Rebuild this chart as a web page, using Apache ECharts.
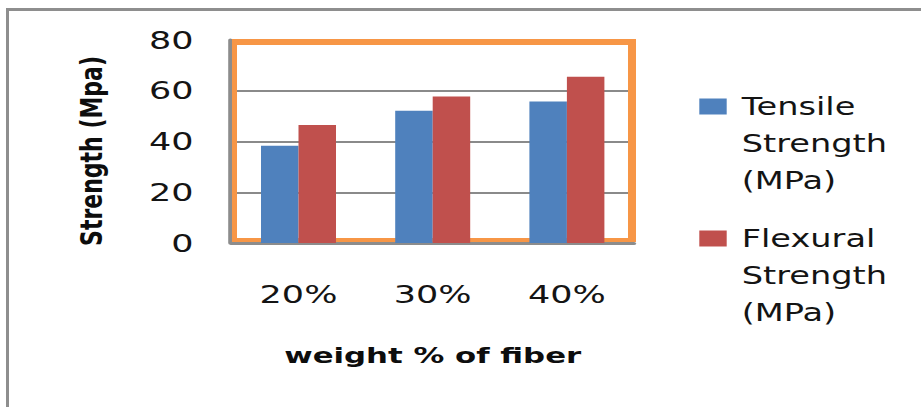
<!DOCTYPE html>
<html>
<head>
<meta charset="utf-8">
<script src="https://cdn.jsdelivr.net/npm/echarts@6/dist/echarts.min.js"></script>
<style>
  html, body { margin: 0; padding: 0; background: #fff; overflow: hidden; }
  /* The chart is laid out narrow and stretched sideways for wide lettering. */
  #chart { width: 658px; height: 407px; transform: scaleX(1.4); transform-origin: 0 0; }
</style>
</head>
<body>
<div id="chart"></div>
<script>
// ---- data ----
const categories = ['20%', '30%', '40%'];
const tensileStrength = [38.3, 52.1, 55.8];
const flexuralStrength = [46.5, 57.7, 65.5];
const seriesNames = ['Tensile\nStrength\n(MPa)', 'Flexural\nStrength\n(MPa)'];
const yRange = { min: 0, max: 80, step: 20 };

// ---- layout helpers (horizontal values given in stretched page pixels) ----
const S = 1.4;
const X = px => px / S;

const FONT = 'DejaVu Sans';
const TEXT = '#141414';
const ORANGE = '#F79646';
const AXIS_GRAY = '#8c8c8c';

// One legend block per series; two blank lines above the name put its
// first line level with the colour swatch.
function legendBlock(name, top) {
  return {
    orient: 'vertical',
    left: X(699.3),
    top: top,
    padding: 0,
    itemWidth: X(27.4),
    itemHeight: 16,
    icon: 'rect',
    selectedMode: false,
    formatter: n => '\n\n' + n,
    textStyle: {
      fontFamily: FONT, fontSize: 24, lineHeight: 37, color: TEXT,
      padding: [0, 0, 0, X(741.7) - X(699.3) - X(27.4) - 5]
    },
    data: [name]
  };
}

const chart = echarts.init(document.getElementById('chart'), null, { renderer: 'svg' });

chart.setOption({
  animation: false,
  backgroundColor: '#fff',
  textStyle: { fontFamily: FONT },
  grid: { left: X(231.4), width: X(402.6), top: 40, height: 203 },
  legend: [legendBlock(seriesNames[0], 14), legendBlock(seriesNames[1], 146)],
  xAxis: {
    type: 'category',
    data: categories,
    axisLine: { lineStyle: { color: AXIS_GRAY, width: 3 } },
    axisTick: { show: false },
    axisLabel: { margin: 39, fontSize: 25, color: TEXT, fontFamily: FONT },
    name: 'weight % of fiber',
    nameLocation: 'middle',
    nameGap: 101,
    nameTextStyle: { fontSize: 22, fontWeight: 'bold', color: '#0d0d0d', fontFamily: FONT }
  },
  yAxis: {
    type: 'value',
    min: yRange.min,
    max: yRange.max,
    interval: yRange.step,
    offset: 1,
    axisLine: { show: true, lineStyle: { color: AXIS_GRAY, width: 3 } },
    axisTick: { show: false },
    splitLine: { lineStyle: { color: '#8a8a8a', width: 2 } },
    axisLabel: { margin: 26, fontSize: 25, color: TEXT, fontFamily: FONT, padding: [5, 0, 0, 0] },
    name: 'Strength (Mpa)',
    nameLocation: 'middle',
    nameGap: 88,
    nameTextStyle: { fontSize: 22, fontWeight: 'bold', color: '#0d0d0d', fontFamily: FONT, padding: [0, 19, 0, 0] }
  },
  series: [
    {
      name: seriesNames[0], type: 'bar', data: tensileStrength,
      barWidth: X(37.5), barGap: '0%',
      itemStyle: { color: '#4F81BD' }
    },
    {
      name: seriesNames[1], type: 'bar', data: flexuralStrength,
      barWidth: X(37.5), barGap: '0%',
      itemStyle: { color: '#C0504D' }
    }
  ],
  graphic: [
    // outer frame, left and top edges
    { type: 'rect', silent: true, shape: { x: X(6), y: 8, width: X(3), height: 420 }, style: { fill: '#8e8e8e' } },
    { type: 'rect', silent: true, shape: { x: X(6), y: 8, width: X(930), height: 3 }, style: { fill: '#8e8e8e' } },
    // plot-area border
    { type: 'rect', silent: true, z: 1, shape: { x: X(232), y: 39, width: X(5), height: 203 }, style: { fill: ORANGE } },
    { type: 'rect', silent: true, z: 1, shape: { x: X(628), y: 39, width: X(8), height: 203 }, style: { fill: ORANGE } },
    { type: 'rect', silent: true, z: 1, shape: { x: X(232), y: 39, width: X(404), height: 6 }, style: { fill: ORANGE } },
    { type: 'rect', silent: true, z: 1, shape: { x: X(232), y: 238, width: X(404), height: 4 }, style: { fill: ORANGE } }
  ]
});
</script>
</body>
</html>
